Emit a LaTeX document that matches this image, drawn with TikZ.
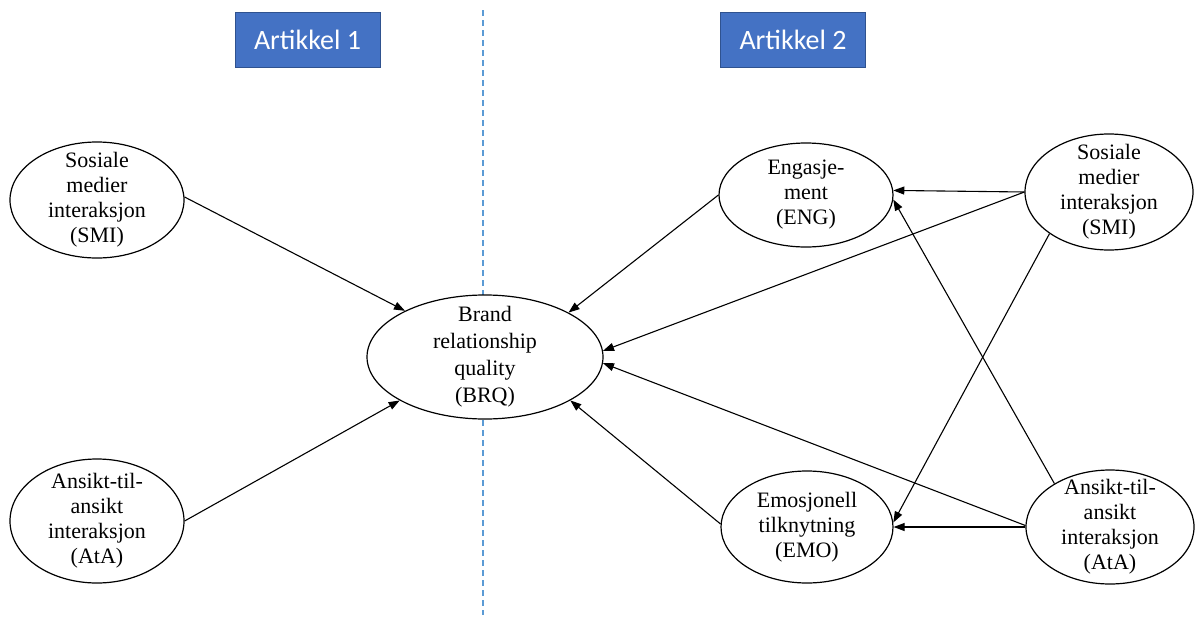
\documentclass[tikz,border=0pt]{standalone}
\usepackage{fontspec}
\setmainfont{Liberation Serif}
\newfontfamily\hdrfont{Carlito}
\usetikzlibrary{shapes.geometric,arrows.meta}
\definecolor{hdrblue}{HTML}{4472C4}
\definecolor{hdredge}{HTML}{2F528F}
\definecolor{divblue}{HTML}{5B9BD5}
\tikzset{
  construct/.style={ellipse, draw=black, line width=1.2pt, inner sep=-20pt, align=center,
    font=\fontsize{22}{25}\selectfont},
  header/.style={rectangle, fill=hdrblue, draw=hdredge, line width=1pt, text=white,
    minimum width=145pt, minimum height=55pt, font=\hdrfont\fontsize{28}{30}\selectfont},
  path/.style={draw=black, line width=1.1pt, -{Triangle[length=11pt,width=8pt]}},
  divider/.style={draw=divblue, line width=1.1pt, dash pattern=on 6pt off 4pt}
}
\begin{document}
\begin{tikzpicture}[x=1pt,y=1pt]
\useasboundingbox (0,0) rectangle (1196,-621);
% divider
\coordinate (dtop) at (483,-10);
\coordinate (dbot) at (483,-615);
\draw[divider] (dtop) -- (dbot);
% headers
\node[header] (h1) at (307.5,-39.5) {Artikkel 1};
\node[header] (h2) at (793,-39.5) {Artikkel 2};
% constructs
\node[construct, minimum width=174pt, minimum height=116pt] (smiL) at (97,-200) {Sosiale\\medier\\interaksjon\\(SMI)};
\node[construct, minimum width=174pt, minimum height=124pt] (ataL) at (97,-521) {Ansikt-til-\\ansikt\\interaksjon\\(AtA)};
\node[construct, minimum width=236pt, minimum height=124pt, fill=white, font=\fontsize{22}{27}\selectfont] (brq) at (485,-357) {Brand\\relationship\\quality\\(BRQ)};
\node[construct, minimum width=174pt, minimum height=104pt] (eng) at (806,-195) {Engasje-\\ment\\(ENG)};
\node[construct, minimum width=168pt, minimum height=116pt] (smiR) at (1109,-192) {Sosiale\\medier\\interaksjon\\(SMI)};
\node[construct, minimum width=172pt, minimum height=112pt] (emo) at (807,-527) {Emosjonell\\tilknytning\\(EMO)};
\node[construct, minimum width=168pt, minimum height=114pt] (ataR) at (1110,-527) {Ansikt-til-\\ansikt\\interaksjon\\(AtA)};
% connectors
\draw[path] (smiL.2) -- (brq.150);
\draw[path] (ataL.0) -- (brq.-153);
\draw[path] (eng.180) -- (brq.28);
\draw[path] (emo.178) -- (brq.-27);
\draw[path] (smiR.180) -- (brq.3);
\draw[path] (smiR.180) -- (eng.3);
\draw[path] (smiR.215) -- (emo.3);
\draw[path] (ataR.180) -- (emo.0);
\draw[path] (ataR.179) -- (brq.-3);
\draw[path] (ataR.142) -- (eng.-3);
\end{tikzpicture}
\end{document}
